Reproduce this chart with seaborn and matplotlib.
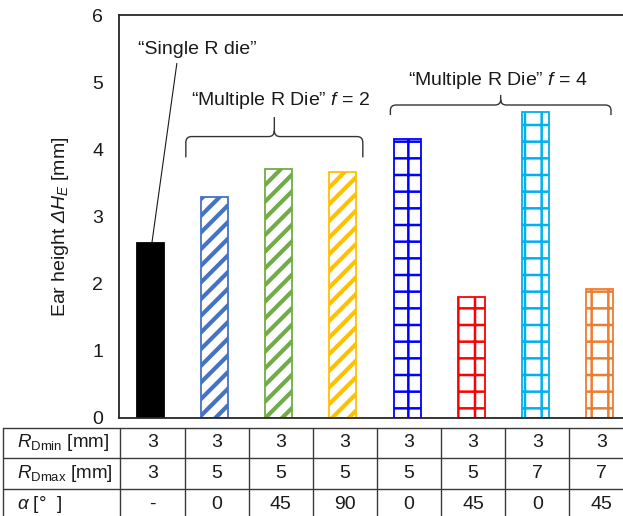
import matplotlib
matplotlib.use("Agg")
import matplotlib.pyplot as plt
import seaborn as sns
import pandas as pd
from matplotlib.path import Path
from matplotlib.patches import PathPatch
from matplotlib import transforms

# ---------------- data ----------------
categories = ["Single R", "f2 a0", "f2 a45", "f2 a90",
              "f4 R5 a0", "f4 R5 a45", "f4 R7 a0", "f4 R7 a45"]
ear_height = [2.60, 3.29, 3.70, 3.66, 4.15, 1.80, 4.56, 1.92]
bar_colors = ["#000000", "#4472C4", "#70AD47", "#FFC000",
              "#0000FF", "#FF0000", "#00B0F0", "#ED7D31"]
bar_hatches = ["", "//", "//", "//", "+", "+", "+", "+"]
rdmin = ["3", "3", "3", "3", "3", "3", "3", "3"]
rdmax = ["3", "5", "5", "5", "5", "5", "7", "7"]
alpha_deg = ["-", "0", "45", "90", "0", "45", "0", "45"]
row_labels = [r"$R_{\mathsf{Dmin}}$ [mm]", r"$R_{\mathsf{Dmax}}$ [mm]", r"$\alpha$ [°  ]"]
y_ticks = [0, 1, 2, 3, 4, 5, 6]

# ---------------- style ----------------
sns.set_style("white")
plt.rcParams["font.family"] = ["Liberation Sans", "DejaVu Sans"]
plt.rcParams["mathtext.fontset"] = "custom"
plt.rcParams["mathtext.rm"] = "Liberation Sans:italic"
plt.rcParams["mathtext.it"] = "Liberation Sans:italic"
plt.rcParams["mathtext.sf"] = "Liberation Sans"
plt.rcParams["mathtext.bf"] = "Liberation Sans:bold"
plt.rcParams["hatch.linewidth"] = 2.6
TXT = "#1a1a1a"
FS = 14

fig = plt.figure(figsize=(6.23, 5.16), dpi=100)
ax = fig.add_axes([118.5 / 623, 98 / 516, 513 / 623, 403 / 516])

df = pd.DataFrame({"case": categories, "height": ear_height})
sns.barplot(data=df, x="case", y="height", hue="case", order=categories,
            hue_order=categories, palette=bar_colors, width=0.42,
            saturation=1, legend=False, ax=ax, linewidth=1.3)

for patch, c, h in zip(ax.patches, bar_colors, bar_hatches):
    if h:
        patch.set_facecolor("white")
        patch.set_edgecolor(c)
        patch.set_hatch(h)
        try:
            patch.set_hatch_linewidth(3.0 if h == "//" else 1.8)
        except AttributeError:
            pass
    else:
        patch.set_facecolor(c)
        patch.set_edgecolor(c)

ax.set_xlim(-0.5, 7.5)
ax.set_ylim(0, 6)
ax.set_yticks(y_ticks)
ax.set_xticks([])
ax.set_xlabel("")
ax.tick_params(axis="y", direction="in", length=5, width=1, labelsize=FS,
               pad=11, colors=TXT)
ax.set_ylabel(r"Ear height $\Delta H_E$ [mm]", fontsize=FS, color=TXT)
ax.yaxis.set_label_coords(-0.092, 0.474)
for s in ax.spines.values():
    s.set_color("#262626")
    s.set_linewidth(1.3)

# ---------------- annotations ----------------
ax.text(0.73, 5.49, "\u201cSingle R die\u201d", ha="center", va="center",
        fontsize=FS, color=TXT)
ax.plot([0.41, 0.02], [5.28, ear_height[0]], color="#1a1a1a", lw=0.8)
ax.text(2.03, 4.73, "\u201cMultiple R Die\u201d $f$ = 2", ha="center",
        va="center", fontsize=FS, color=TXT)
ax.text(5.41, 5.03, "\u201cMultiple R Die\u201d $f$ = 4", ha="center",
        va="center", fontsize=FS, color=TXT)


def brace(x0, x1, y, tip, foot, rx=0.09, ry=0.09):
    xm = (x0 + x1) / 2
    verts = [(x0, y - foot), (x0, y - ry), (x0, y), (x0 + rx, y),
             (xm - rx, y), (xm, y), (xm, y + ry), (xm, y + tip),
             (xm, y + ry), (xm, y), (xm + rx, y),
             (x1 - rx, y), (x1, y), (x1, y - ry), (x1, y - foot)]
    codes = [Path.MOVETO, Path.LINETO, Path.CURVE3, Path.CURVE3,
             Path.LINETO, Path.CURVE3, Path.CURVE3, Path.LINETO,
             Path.MOVETO, Path.CURVE3, Path.CURVE3,
             Path.LINETO, Path.CURVE3, Path.CURVE3, Path.LINETO]
    ax.add_patch(PathPatch(Path(verts, codes), fill=False, ec="#333333",
                           lw=1.0, clip_on=False))


brace(0.55, 3.31, 4.19, 0.29, 0.31)
brace(3.74, 7.18, 4.66, 0.15, 0.15, ry=0.08)

# ---------------- table ----------------
tr = transforms.blended_transform_factory(ax.transData, ax.transAxes)
line_kw = dict(color="#3a3a3a", lw=1.0, transform=tr, clip_on=False)
x_left = -2.30
x_right = 8.0
row_edges = [-0.0248, -0.0993, -0.176, -0.26]
row_centers = [-0.062, -0.138, -0.214]
for yy in row_edges[:3]:
    ax.plot([x_left, x_right], [yy, yy], **line_kw)
col_edges = [x_left] + [i - 0.47 for i in range(len(categories) + 1)]
for xx in col_edges:
    ax.plot([xx, xx], [row_edges[0], row_edges[-1]], **line_kw)

rows = [rdmin, rdmax, alpha_deg]
for r, (lab, vals) in enumerate(zip(row_labels, rows)):
    ax.text(-2.09, row_centers[r], lab, transform=tr, ha="left", va="center",
            fontsize=13.5, color=TXT, clip_on=False)
    for i, v in enumerate(vals):
        ax.text(i + 0.03, row_centers[r], v, transform=tr, ha="center",
                va="center", fontsize=FS, color=TXT, clip_on=False)

ax.set_xlim(-0.5, 7.5)
ax.set_ylim(0, 6)
fig.savefig("out.png", dpi=100)
